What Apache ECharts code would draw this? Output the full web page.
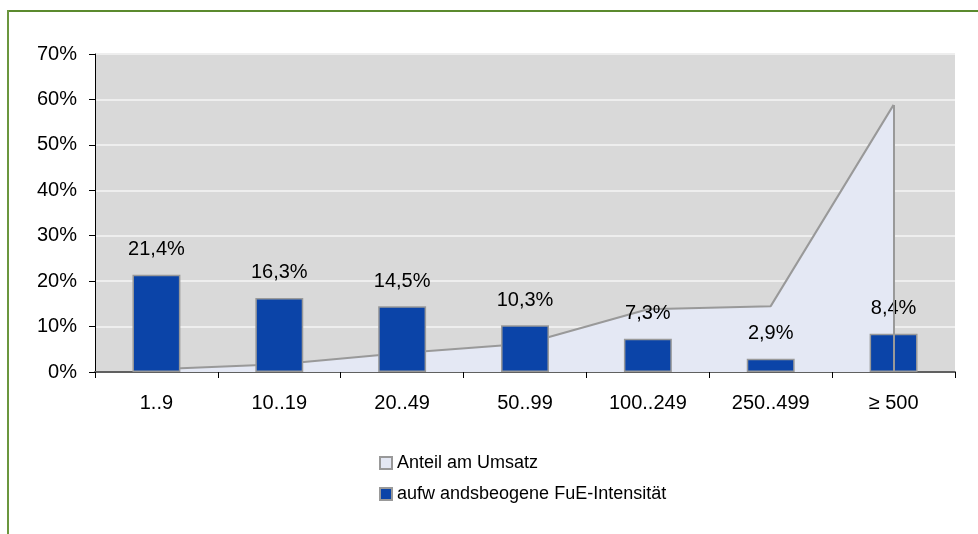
<!DOCTYPE html>
<html>
<head>
<meta charset="utf-8">
<script src="https://cdn.jsdelivr.net/npm/echarts@6/dist/echarts.min.js"></script>
<style>
  html, body { margin: 0; padding: 0; background: #ffffff; }
  #chart { width: 978px; height: 534px; }
</style>
</head>
<body>
<div id="chart"></div>
<script>
// Size classes (number of employees)
const categories = ['1..9', '10..19', '20..49', '50..99', '100..249', '250..499', '≥ 500'];
// Share of turnover per size class, percent
const umsatzAnteil = [0.6, 1.7, 4.2, 6.2, 13.8, 14.5, 58.8];
// Expense-based R&D intensity per size class, percent
const fueIntensitaet = [21.4, 16.3, 14.5, 10.3, 7.3, 2.9, 8.4];
// Value axis ticks
const yTicks = [0, 10, 20, 30, 40, 50, 60, 70];

const seriesNames = ['Anteil am Umsatz', 'aufw andsbeogene FuE-Intensität'];

const FONT = '"Liberation Sans", Arial, sans-serif';
const areaFill = '#E4E8F4';
const areaLine = '#999999';
const barFill = '#0B44A8';

const fmtPct = v => String(v).replace('.', ',') + '%';

const chart = echarts.init(document.getElementById('chart'), null, { renderer: 'canvas' });
const lastIdx = categories.length - 1;

chart.setOption({
  animation: false,
  backgroundColor: '#ffffff',
  textStyle: { fontFamily: FONT },
  graphic: [
    { type: 'rect', shape: { x: 8, y: 10, width: 970, height: 2 }, style: { fill: '#5B8A2E' }, silent: true },
    { type: 'rect', shape: { x: 7, y: 10, width: 2, height: 524 }, style: { fill: '#6B963E' }, silent: true }
  ],
  grid: {
    left: 95, right: 23, top: 54, bottom: 162,
    show: true, backgroundColor: '#D9D9D9', borderWidth: 0
  },
  legend: {
    orient: 'vertical',
    left: 374, top: 449,
    itemWidth: 12, itemHeight: 12, itemGap: 13,
    textStyle: { fontFamily: FONT, fontSize: 18, color: '#000' },
    data: [
      { name: seriesNames[0], icon: 'rect', itemStyle: { color: areaFill, borderColor: '#999', borderWidth: 2 } },
      { name: seriesNames[1], icon: 'rect', itemStyle: { color: barFill, borderColor: '#999', borderWidth: 2 } }
    ]
  },
  xAxis: {
    type: 'category',
    data: categories,
    boundaryGap: true,
    axisLine: { show: true, lineStyle: { color: '#606060', width: 2 } },
    axisTick: { show: true, length: 6, lineStyle: { color: '#000', width: 1 } },
    axisLabel: { fontFamily: FONT, fontSize: 20, color: '#000', margin: 21 },
    splitLine: { show: false }
  },
  yAxis: {
    type: 'value',
    min: yTicks[0], max: yTicks[yTicks.length - 1], interval: yTicks[1] - yTicks[0],
    axisLine: { show: true, lineStyle: { color: '#000', width: 1 } },
    axisTick: { show: true, length: 6, lineStyle: { color: '#000', width: 1 } },
    axisLabel: { fontFamily: FONT, fontSize: 20, color: '#000', margin: 18, formatter: '{value}%' },
    splitLine: { show: true, lineStyle: { color: '#EEEEEE', width: 2 } }
  },
  series: [
    {
      name: seriesNames[0],
      type: 'line',
      data: umsatzAnteil,
      symbol: 'none',
      z: 1,
      lineStyle: { color: areaLine, width: 2 },
      itemStyle: { color: areaFill },
      areaStyle: { color: areaFill, opacity: 1 },
      markLine: {
        silent: true,
        symbol: ['none', 'none'],
        label: { show: false },
        lineStyle: { color: areaLine, width: 2, type: 'solid' },
        data: [[
          { coord: [lastIdx, 0] },
          { coord: [lastIdx, umsatzAnteil[lastIdx]] }
        ]]
      }
    },
    {
      name: seriesNames[1],
      type: 'bar',
      data: fueIntensitaet,
      barWidth: '39%',
      z: 3,
      itemStyle: { color: barFill, borderColor: '#999999', borderWidth: 1.5 },
      label: {
        show: true,
        position: 'top',
        distance: 15,
        fontFamily: FONT,
        fontSize: 20,
        color: '#000',
        formatter: p => fmtPct(p.value)
      }
    }
  ]
});
</script>
</body>
</html>
